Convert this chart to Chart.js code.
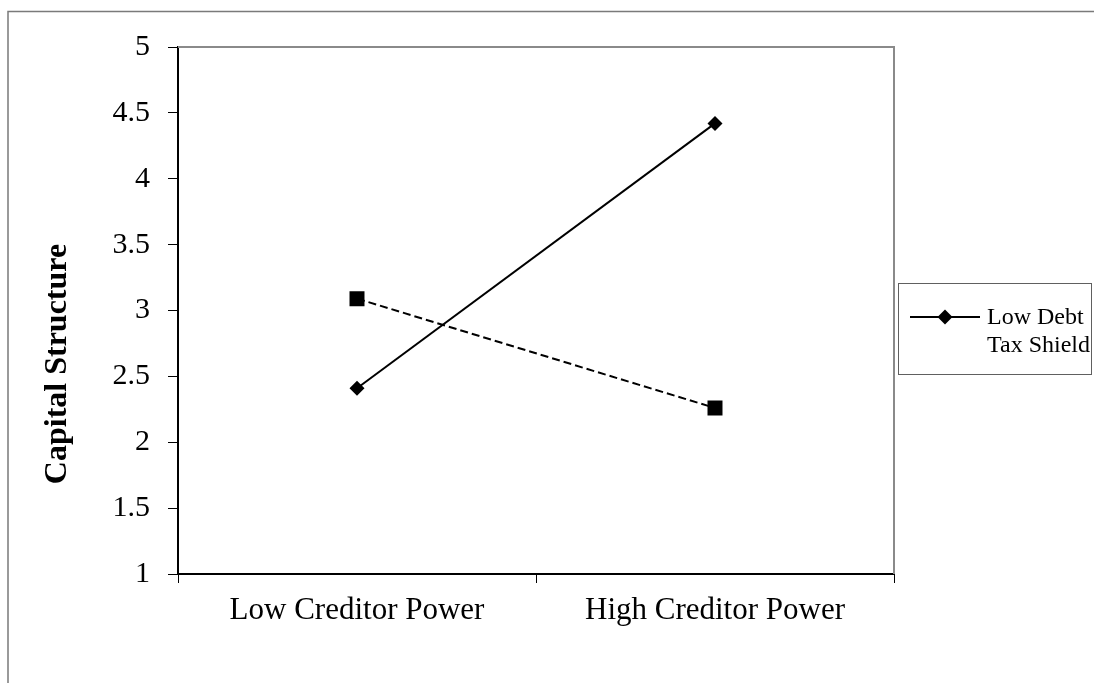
<!DOCTYPE html>
<html>
<head>
<meta charset="utf-8">
<script src="https://cdn.jsdelivr.net/npm/chart.js@4"></script>
<style>
  html, body { margin: 0; padding: 0; background: #fff; }
  #wrap { position: relative; width: 1094px; height: 683px; }
  canvas { display: block; }
</style>
</head>
<body>
<div id="wrap"><canvas id="c" width="1094" height="683"></canvas></div>
<script>
// ---- data ----
const categories = ['Low Creditor Power', 'High Creditor Power'];
const lowDebtTaxShield = [2.41, 4.42];
const highDebtTaxShield = [3.09, 2.26];
const seriesLabels = [['Low Debt', 'Tax Shield'], ['High Debt', 'Tax Shield']];
const yTickLabels = ['1', '1.5', '2', '2.5', '3', '3.5', '4', '4.5', '5'];
const yTickValues = [1, 1.5, 2, 2.5, 3, 3.5, 4, 4.5, 5];
const yAxisTitle = 'Capital Structure';

const SERIF = "'Liberation Serif', 'Times New Roman', serif";

const framePlugin = {
  id: 'frame',
  beforeDraw(chart) {
    const ctx = chart.ctx;
    ctx.save();
    ctx.fillStyle = '#fff';
    ctx.fillRect(0, 0, chart.width, chart.height);
    ctx.strokeStyle = '#7a7a7a';
    ctx.lineWidth = 1.5;
    ctx.beginPath();
    ctx.moveTo(8, 683);
    ctx.lineTo(8, 11.5);
    ctx.lineTo(1094, 11.5);
    ctx.stroke();
    ctx.restore();
  },
  afterDatasetsDraw(chart) {
    const ctx = chart.ctx;
    const a = chart.chartArea;
    ctx.save();
    ctx.strokeStyle = '#8a8a8a';
    ctx.lineWidth = 2;
    ctx.beginPath();
    ctx.moveTo(a.left, a.top);
    ctx.lineTo(a.right, a.top);
    ctx.lineTo(a.right, a.bottom);
    ctx.stroke();
    ctx.restore();
  },
  afterDraw(chart) {
    const ctx = chart.ctx;
    // y axis title
    ctx.save();
    ctx.translate(66, 364);
    ctx.rotate(-Math.PI / 2);
    ctx.font = 'bold 32px ' + SERIF;
    ctx.fillStyle = '#000';
    ctx.textAlign = 'center';
    ctx.textBaseline = 'alphabetic';
    ctx.fillText(yAxisTitle, 0, 0);
    ctx.restore();

    // legend box (only first series visible, as in the reference)
    const ds = chart.data.datasets[0];
    ctx.save();
    ctx.strokeStyle = '#606060';
    ctx.lineWidth = 1;
    ctx.strokeRect(898.5, 283.5, 193, 91);
    ctx.strokeStyle = '#000';
    ctx.lineWidth = 2;
    ctx.beginPath();
    ctx.moveTo(910, 317);
    ctx.lineTo(980, 317);
    ctx.stroke();
    ctx.fillStyle = '#000';
    ctx.beginPath();
    ctx.moveTo(945, 309.5);
    ctx.lineTo(952.5, 317);
    ctx.lineTo(945, 324.5);
    ctx.lineTo(937.5, 317);
    ctx.closePath();
    ctx.fill();
    ctx.font = '24px ' + SERIF;
    ctx.textAlign = 'left';
    ctx.textBaseline = 'alphabetic';
    ds.label.forEach((t, i) => ctx.fillText(t, 987, 324 + i * 28));
    ctx.restore();
  }
};

new Chart(document.getElementById('c'), {
  type: 'line',
  data: {
    labels: categories,
    datasets: [
      {
        label: seriesLabels[0],
        data: lowDebtTaxShield,
        borderColor: '#000',
        backgroundColor: '#000',
        borderWidth: 2,
        pointStyle: 'rectRot',
        pointRadius: 7.5,
        pointHoverRadius: 7.5,
        pointBorderWidth: 0,
        tension: 0
      },
      {
        label: seriesLabels[1],
        data: highDebtTaxShield,
        borderColor: '#000',
        backgroundColor: '#000',
        borderWidth: 2,
        borderDash: [8, 4],
        pointStyle: 'rect',
        pointRadius: 10.6,
        pointHoverRadius: 10.6,
        pointBorderWidth: 0,
        tension: 0
      }
    ]
  },
  options: {
    responsive: false,
    animation: false,
    events: [],
    layout: { padding: { left: 0, right: 200, top: 47, bottom: 0 } },
    plugins: { legend: { display: false }, tooltip: { enabled: false } },
    scales: {
      x: {
        type: 'category',
        offset: true,
        grid: { offset: true, drawOnChartArea: false, drawTicks: true, tickLength: 9, color: '#000', lineWidth: 1 },
        border: { display: true, color: '#000', width: 2 },
        ticks: { color: '#000', font: { family: SERIF, size: 31 }, padding: 9, maxRotation: 0, autoSkip: false },
        afterFit(scale) { scale.height = 109; }
      },
      y: {
        min: 1, max: 5,
        afterBuildTicks(scale) { scale.ticks = yTickValues.map(v => ({ value: v })); },
        grid: { drawOnChartArea: false, drawTicks: true, tickLength: 10, color: '#000', lineWidth: 1 },
        border: { display: true, color: '#000', width: 2 },
        ticks: {
          color: '#000', font: { family: SERIF, size: 30 }, padding: 18,
          callback(value) { const i = yTickValues.indexOf(value); return i >= 0 ? yTickLabels[i] : ''; }
        },
        title: { display: false },
        afterFit(scale) { scale.width = 178; }
      }
    }
  },
  plugins: [framePlugin]
});
</script>
</body>
</html>
